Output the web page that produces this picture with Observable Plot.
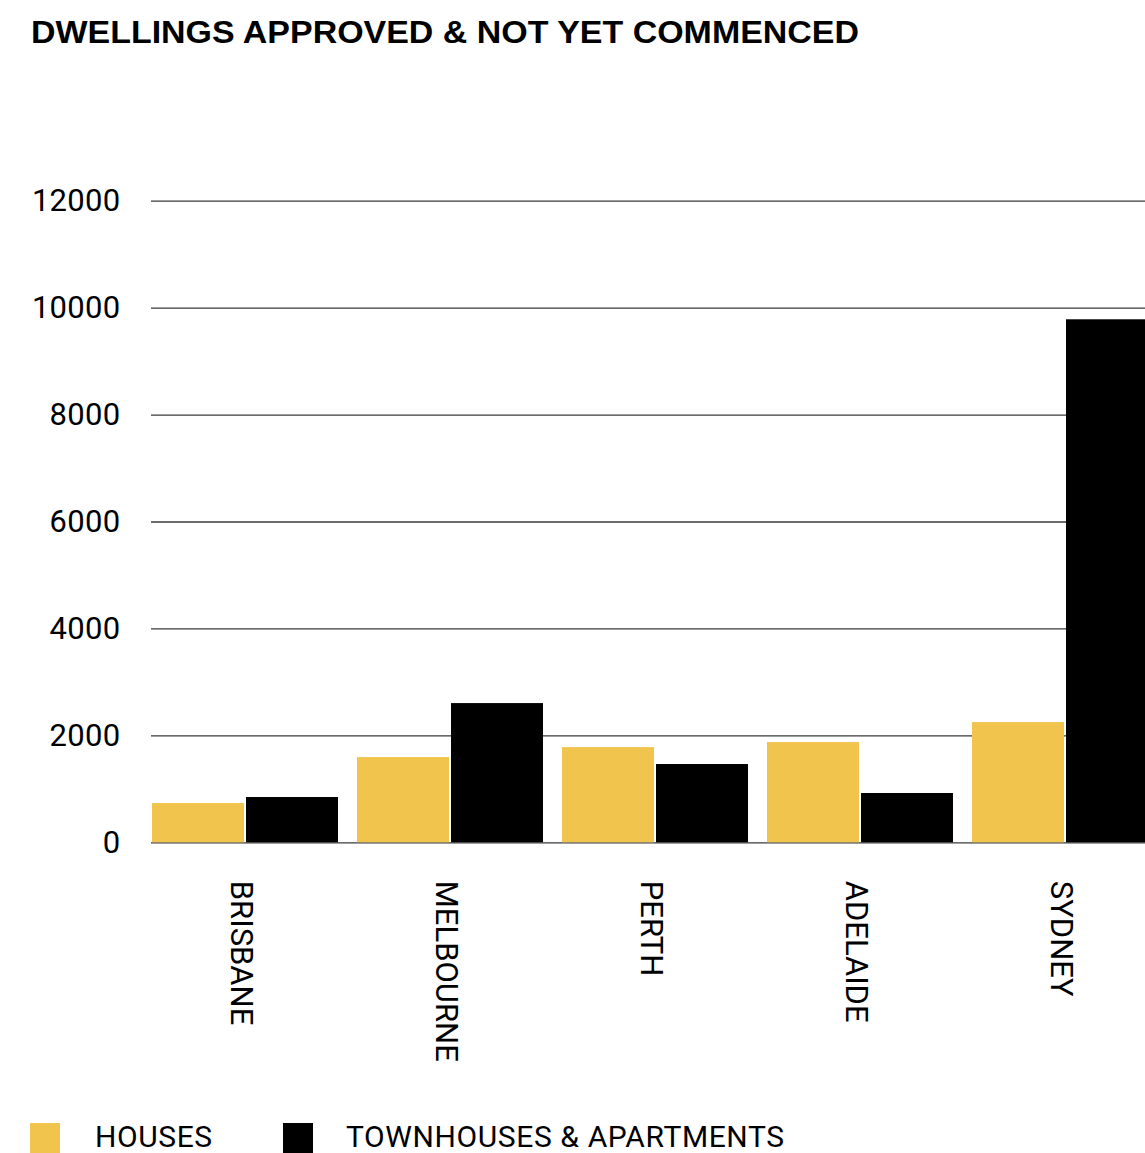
<!DOCTYPE html>
<html><head><meta charset="utf-8">
<script src="https://cdn.jsdelivr.net/npm/d3@7"></script>
<script src="https://cdn.jsdelivr.net/npm/@observablehq/plot@0.6"></script>
<style>
html,body{margin:0;padding:0;background:#fff;overflow:hidden;width:1145px;height:1153px;}
#wrap{position:relative;width:1145px;height:1153px;overflow:hidden;background:#fff;}
#title{position:absolute;left:31px;top:16.4px;font:700 32px/1 "Liberation Sans", Arial, sans-serif;white-space:nowrap;transform-origin:0 0;color:#000;}
.layer{position:absolute;left:0;top:0;width:1160px;}
.layer svg{max-width:none !important;}
.lg{position:absolute;top:1122.3px;font:400 30px/1 Roboto,sans-serif;letter-spacing:0.6px;white-space:nowrap;color:#000;}
.sw{position:absolute;top:1123px;width:30px;height:30px;}
</style></head><body>
<div id="wrap">
<div id="grid" class="layer"></div>
<div id="bars" class="layer"></div>
<div id="title">DWELLINGS APPROVED &amp; NOT YET COMMENCED</div>
<div id="legend"></div>
</div>
<script>
const cities = ["BRISBANE", "MELBOURNE", "PERTH", "ADELAIDE", "SYDNEY"];
const houses = [735, 1594, 1781, 1875, 2249];
const townhouses = [847, 2604, 1464, 922, 9782];
const seriesNames = ["HOUSES", "TOWNHOUSES & APARTMENTS"];
const seriesColors = ["#F1C44E", "#000000"];
const yTicks = [0, 2000, 4000, 6000, 8000, 10000, 12000];

const data = cities.flatMap((c, i) => [
  {city: c, series: seriesNames[0], value: houses[i]},
  {city: c, series: seriesNames[1], value: townhouses[i]}
]);

const frame = {
  width: 1160,
  height: 1080,
  marginLeft: 151,
  marginRight: 2,
  marginTop: 200.7,
  marginBottom: 237.7,
  style: {fontFamily: "Roboto, sans-serif", fontSize: "31px", color: "#000", background: "transparent", overflow: "visible", maxWidth: "none"}
};

// background layer: y axis and full-width gridlines
const gridPlot = Plot.plot({
  ...frame,
  x: {domain: [0, 1], axis: null},
  y: {domain: [0, 12000], ticks: yTicks, tickSize: 0, tickPadding: 31, tickFormat: "d", label: null},
  marks: [
    Plot.ruleY(yTicks, {stroke: "#3a3a3a", strokeWidth: 1.3})
  ]
});
gridPlot.style.letterSpacing = "0.3px";
document.getElementById("grid").appendChild(gridPlot);

// foreground layer: grouped bars and city labels
const hasAxisMarks = typeof Plot.axisFx === "function";
const fxAxisOpts = {label: null, tickRotate: 90, tickSize: 0, tickPadding: 38};
const barPlot = Plot.plot({
  ...frame,
  fx: hasAxisMarks
    ? {domain: cities, paddingInner: 0.094, paddingOuter: 0, axis: null}
    : {domain: cities, paddingInner: 0.094, paddingOuter: 0, ...fxAxisOpts},
  x: {domain: seriesNames, paddingInner: 0.022, paddingOuter: 0, axis: null},
  y: {domain: [0, 12000], axis: null},
  color: {domain: seriesNames, range: seriesColors},
  marks: [
    Plot.barY(data, {fx: "city", x: "series", y: "value", fill: "series"}),
    ...(hasAxisMarks ? [Plot.axisFx({...fxAxisOpts, anchor: "bottom", dx: -5})] : [])
  ]
});
document.getElementById("bars").appendChild(barPlot);

const title = document.getElementById("title");
const tw = title.getBoundingClientRect().width;
title.style.transform = `scaleX(${828 / tw})`;

const legend = document.getElementById("legend");
const swX = [30, 283], txX = [95, 346];
seriesNames.forEach((name, i) => {
  const sw = document.createElement("div");
  sw.className = "sw"; sw.style.left = swX[i] + "px"; sw.style.background = seriesColors[i];
  legend.appendChild(sw);
  const t = document.createElement("div");
  t.className = "lg"; t.style.left = txX[i] + "px"; t.textContent = name;
  legend.appendChild(t);
});
</script>
</body></html>
